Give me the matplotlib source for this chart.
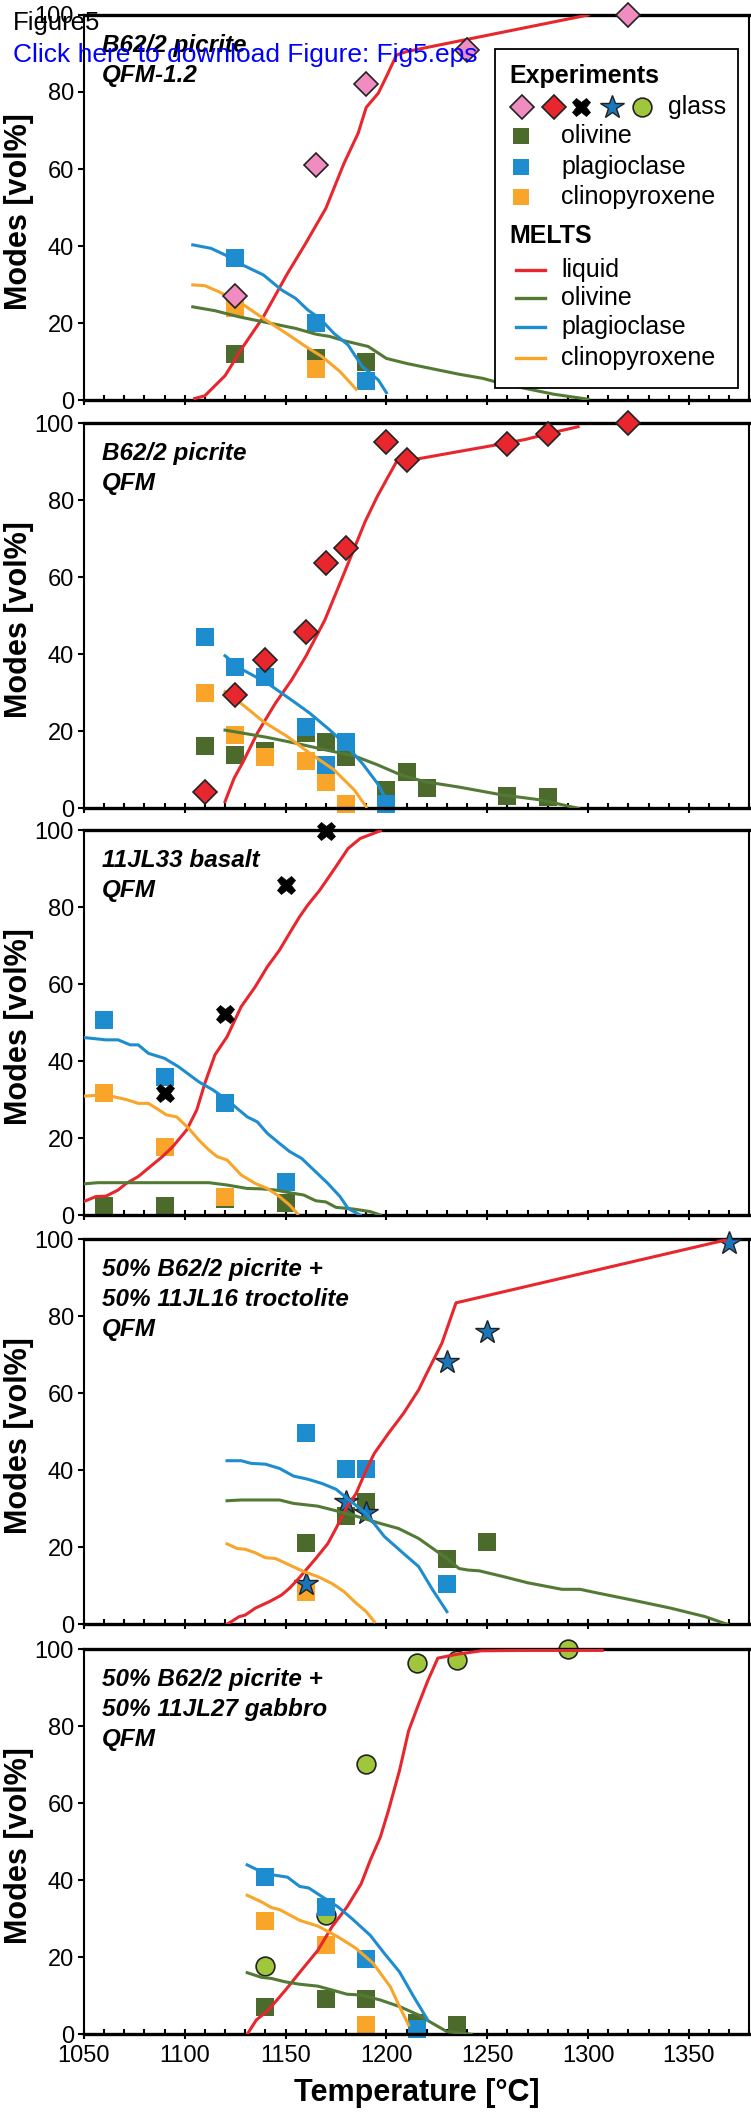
import matplotlib.pyplot as plt
from matplotlib.patches import Rectangle
from matplotlib.ticker import MultipleLocator

plt.rcParams['font.family'] = ['Liberation Sans', 'DejaVu Sans']

# ---- experiments (T in degC, modes in vol%) ----
p1_glass_T = [1125, 1165, 1190, 1240, 1320]
p1_glass = [27, 61, 82, 91, 100]
p1_ol_T = [1125, 1165, 1190]
p1_ol = [12, 11, 10]
p1_pl_T = [1125, 1165, 1190]
p1_pl = [37, 20, 5]
p1_cpx_T = [1125, 1165]
p1_cpx = [24, 8]

p2_glass_T = [1110, 1125, 1140, 1160, 1170, 1180, 1200, 1210, 1260, 1280, 1320]
p2_glass = [4.3, 29.4, 38.5, 45.7, 63.8, 67.5, 95, 90.5, 94.5, 97.2, 100]
p2_ol_T = [1110, 1125, 1140, 1160, 1170, 1180, 1200, 1210, 1220, 1260, 1280]
p2_ol = [16.3, 13.9, 14.8, 19.5, 17.3, 13.4, 4.8, 9.3, 5.2, 3.2, 2.9]
p2_pl_T = [1110, 1125, 1140, 1160, 1170, 1180, 1200]
p2_pl = [44.6, 36.8, 34.2, 21.2, 11.3, 17.3, 1]
p2_cpx_T = [1110, 1125, 1140, 1160, 1170, 1180]
p2_cpx = [29.9, 19, 13.4, 12.4, 6.7, 1]

p3_glass_T = [1090, 1120, 1150, 1170]
p3_glass = [31.8, 52.2, 85.7, 99.8]
p3_ol_T = [1060, 1090, 1120, 1150]
p3_ol = [2.3, 2.3, 4.2, 3.0]
p3_pl_T = [1060, 1090, 1120, 1150]
p3_pl = [50.6, 35.9, 29, 8.7]
p3_cpx_T = [1060, 1090, 1120]
p3_cpx = [31.8, 17.7, 4.8]

p4_glass_T = [1160, 1180, 1190, 1230, 1250, 1370]
p4_glass = [10.6, 31.9, 28.8, 68.2, 76, 99.1]
p4_ol_T = [1160, 1180, 1190, 1230, 1250]
p4_ol = [21, 28.1, 31.9, 17, 21.5]
p4_pl_T = [1160, 1180, 1190, 1230]
p4_pl = [49.6, 40.3, 40.3, 10.6]
p4_cpx_T = [1160]
p4_cpx = [8.3]

p5_glass_T = [1140, 1170, 1190, 1215, 1235, 1290]
p5_glass = [17.8, 30.9, 70.2, 96.5, 97.2, 100]
p5_ol_T = [1140, 1170, 1190, 1215, 1235]
p5_ol = [7.2, 9.1, 9.1, 2.8, 2.4]
p5_pl_T = [1140, 1170, 1190, 1215]
p5_pl = [40.8, 33, 19.5, 1.3]
p5_cpx_T = [1140, 1170, 1190]
p5_cpx = [29.4, 23.1, 2.4]

# ---- MELTS curves ----
p1_liq_T = [1105, 1110, 1120, 1129, 1139, 1151, 1160, 1170, 1179, 1186, 1190, 1196, 1200, 1205, 1210, 1300]
p1_liq = [0.4, 1.1, 6.3, 13.9, 21.6, 32.9, 40.7, 49.8, 61.5, 69.3, 76, 79.7, 84, 89.6, 90.5, 100]
p1_olm_T = [1104, 1115, 1127, 1139, 1155, 1165, 1172, 1179, 1191, 1200, 1210, 1222, 1236, 1248, 1257, 1269, 1283, 1300]
p1_olm = [24.2, 23.2, 21.6, 20.3, 18.6, 17.1, 16.5, 15.4, 13.9, 10.8, 9.5, 8.2, 6.7, 5.6, 4.3, 3.0, 1.5, 0.2]
p1_plm_T = [1104, 1113, 1120, 1127, 1139, 1148, 1155, 1161, 1167, 1174, 1181, 1188, 1196, 1200]
p1_plm = [40.3, 39.4, 37.7, 35.5, 32.5, 28.6, 26.4, 23.4, 21.2, 17.3, 14.3, 8.7, 5.2, 1.9]
p1_cpxm_T = [1104, 1110, 1117, 1127, 1139, 1151, 1160, 1168, 1177, 1185]
p1_cpxm = [29.9, 29.7, 28.1, 25.5, 21.2, 17.1, 13.9, 11.3, 7.4, 2.8]

p2_liq_T = [1120, 1124.5, 1129, 1136, 1145, 1153, 1160, 1169.5, 1179, 1189.5, 1195.5, 1200, 1205, 1214, 1231, 1245, 1259, 1269, 1281, 1295]
p2_liq = [1.7, 7.8, 12.1, 19.5, 27.3, 33.3, 39.4, 48.9, 61, 74.5, 81, 85.3, 90, 90.6, 92.2, 93.5, 94.8, 95.8, 97.4, 99.1]
p2_olm_T = [1120, 1129, 1141, 1155, 1169.5, 1184, 1195.5, 1207, 1219, 1236, 1257, 1276, 1295]
p2_olm = [20.3, 19.5, 18.4, 16.9, 15.2, 13.6, 11.3, 8.7, 6.9, 5.5, 3.5, 2.2, 0]
p2_plm_T = [1120, 1129, 1141, 1153, 1162, 1172, 1179, 1188, 1195.5, 1200]
p2_plm = [39.6, 35.9, 32.5, 28.1, 24.7, 20.3, 16.9, 11.7, 6.5, 2.2]
p2_cpxm_T = [1120, 1129, 1139, 1151, 1162, 1174, 1184, 1190]
p2_cpxm = [30.3, 26.8, 22.5, 18.6, 14.3, 10, 4.8, 0.4]

p3_liq_T = [1050, 1056, 1061, 1067, 1071, 1077, 1083, 1089, 1094, 1101, 1106, 1110, 1115, 1121, 1128, 1135, 1141, 1147, 1152, 1157, 1161, 1167, 1175, 1181, 1187, 1197]
p3_liq = [3.5, 4.8, 4.9, 6.5, 8.2, 10, 12.6, 15.2, 17.7, 22.1, 27.3, 34.2, 41.6, 46.3, 54.1, 59.3, 64.5, 68.8, 73.2, 77.5, 80.5, 84.4, 90.5, 95.2, 97.8, 99.8]
p3_olm_T = [1050, 1057, 1069, 1081, 1093, 1112, 1121, 1131, 1138, 1145, 1152, 1159, 1165, 1170, 1175, 1183, 1192, 1197]
p3_olm = [8.1, 8.4, 8.4, 8.4, 8.4, 8.4, 7.8, 6.9, 6.8, 6.5, 5.8, 5.2, 3.7, 3.4, 2.0, 1.6, 0.9, 0]
p3_plm_T = [1050, 1061, 1067, 1073, 1077, 1082, 1090, 1097, 1107, 1114, 1121, 1131, 1136, 1141, 1147, 1152, 1158, 1164, 1171, 1177, 1181, 1187]
p3_plm = [46.1, 45.5, 45.5, 44.2, 44.2, 42, 40.7, 38.5, 34.6, 32.5, 29.9, 25.5, 24.2, 21.2, 18.6, 16.5, 14.7, 11.7, 8.2, 4.8, 1.7, 0]
p3_cpxm_T = [1050, 1060, 1065, 1071, 1077, 1082, 1086, 1091, 1096, 1102, 1107, 1112, 1116, 1121, 1128, 1135, 1141, 1147, 1152, 1156]
p3_cpxm = [30.9, 31.2, 30.7, 30, 29, 29, 27.7, 26, 25.5, 22.5, 19.5, 16.9, 15.2, 14.3, 10.4, 8.2, 6.9, 4.8, 2.6, 0.3]

p4_liq_T = [1121, 1127, 1130, 1135, 1142, 1148, 1152, 1156.5, 1165, 1171, 1175, 1180, 1185, 1190, 1194, 1201, 1208.5, 1216, 1220, 1227.5, 1234.5, 1368]
p4_liq = [0, 2, 2.4, 4.2, 5.9, 7.6, 9.4, 11.9, 17.1, 21, 24.9, 30.1, 34, 40.1, 44.4, 49.6, 54.8, 60.9, 65.2, 73, 83.5, 99.8]
p4_olm_T = [1121, 1128, 1147, 1154, 1166, 1175, 1185, 1197, 1206, 1216, 1223, 1230, 1236, 1240.5, 1246, 1258, 1270, 1287, 1296, 1305, 1322, 1341, 1358, 1369]
p4_olm = [32.1, 32.3, 32.3, 31.4, 30.7, 29.5, 28.1, 26.2, 24.9, 22.3, 19.7, 17.1, 14.5, 14.1, 13.9, 12.4, 10.8, 9.1, 9.1, 8.1, 6.3, 4.2, 2, 0]
p4_plm_T = [1121, 1128, 1133, 1140, 1147, 1154, 1161, 1168, 1175, 1182.5, 1190, 1199, 1208.5, 1216, 1223, 1230]
p4_plm = [42.5, 42.5, 41.8, 41.6, 40.5, 38.5, 37.7, 36.6, 35.1, 31.9, 28.8, 22.8, 18.4, 15, 8.9, 3.3]
p4_cpxm_T = [1121, 1126, 1130, 1135, 1140, 1145, 1152, 1159, 1166, 1173, 1179, 1185, 1190, 1194]
p4_cpxm = [20.9, 19.7, 19.5, 18.6, 17.3, 17.1, 15.4, 13.7, 12.4, 10.6, 8.5, 5.5, 3.3, 0.7]

p5_liq_T = [1131, 1135.5, 1141.5, 1150, 1158, 1166, 1173, 1180.5, 1187.5, 1192, 1197, 1201, 1206.5, 1211, 1216, 1220.5, 1225.5, 1235, 1247, 1270, 1307]
p5_liq = [0, 3.7, 6.3, 11.5, 16.7, 21.8, 27.9, 33.1, 39.1, 45.2, 51.2, 58.1, 68.5, 78.8, 85.8, 91.8, 97.7, 98.7, 99.6, 99.7, 99.7]
p5_olm_T = [1131, 1138, 1143, 1150, 1157, 1166, 1173, 1180.5, 1187.5, 1197, 1206.5, 1216, 1223, 1230, 1242]
p5_olm = [16, 14.8, 14.5, 13.6, 13, 12.5, 11.5, 10.4, 10.2, 8.9, 7.2, 5, 2.8, 0.7, 0]
p5_plm_T = [1131, 1140, 1151, 1157, 1161.5, 1168.5, 1176, 1183, 1192, 1199, 1206.5, 1213.5, 1220.5]
p5_plm = [44, 41.7, 40.8, 38.4, 38, 35.6, 33.1, 30, 25.7, 21, 16.2, 9.8, 3.7]
p5_cpxm_T = [1131, 1138, 1143, 1147, 1157, 1166, 1176, 1185, 1193.5, 1202, 1206.5, 1211]
p5_cpxm = [36.1, 34.4, 32.9, 32.4, 29.6, 28.1, 25.3, 22.3, 18.4, 12.3, 7.2, 2.4]

titles = [
    ['B62/2 picrite', 'QFM-1.2'],
    ['B62/2 picrite', 'QFM'],
    ['11JL33 basalt', 'QFM'],
    ['50% B62/2 picrite +', '50% 11JL16 troctolite', 'QFM'],
    ['50% B62/2 picrite +', '50% 11JL27 gabbro', 'QFM'],
]

RED = '#e8262d'
OL_SQ = '#4b6a2c'
OL_LN = '#537a35'
PL = '#1e8dd0'
CPX = '#f8a52a'
glass_styles = [
    dict(marker='D', ms=12.5, mfc='#f08cc0', mec='#222222', mew=1.2),
    dict(marker='D', ms=12.5, mfc=RED, mec='#222222', mew=1.2),
    dict(marker='X', ms=13, mfc='black', mec='black', mew=0.5),
    dict(marker='*', ms=17.5, mfc='#1a76bc', mec='#222222', mew=1.0),
    dict(marker='o', ms=13.5, mfc='#a0c73c', mec='#222222', mew=1.2),
]
glass_z = [5, 5, 5, 3, 1.5]

panels = [
    (p1_glass_T, p1_glass, p1_ol_T, p1_ol, p1_pl_T, p1_pl, p1_cpx_T, p1_cpx,
     p1_liq_T, p1_liq, p1_olm_T, p1_olm, p1_plm_T, p1_plm, p1_cpxm_T, p1_cpxm),
    (p2_glass_T, p2_glass, p2_ol_T, p2_ol, p2_pl_T, p2_pl, p2_cpx_T, p2_cpx,
     p2_liq_T, p2_liq, p2_olm_T, p2_olm, p2_plm_T, p2_plm, p2_cpxm_T, p2_cpxm),
    (p3_glass_T, p3_glass, p3_ol_T, p3_ol, p3_pl_T, p3_pl, p3_cpx_T, p3_cpx,
     p3_liq_T, p3_liq, p3_olm_T, p3_olm, p3_plm_T, p3_plm, p3_cpxm_T, p3_cpxm),
    (p4_glass_T, p4_glass, p4_ol_T, p4_ol, p4_pl_T, p4_pl, p4_cpx_T, p4_cpx,
     p4_liq_T, p4_liq, p4_olm_T, p4_olm, p4_plm_T, p4_plm, p4_cpxm_T, p4_cpxm),
    (p5_glass_T, p5_glass, p5_ol_T, p5_ol, p5_pl_T, p5_pl, p5_cpx_T, p5_cpx,
     p5_liq_T, p5_liq, p5_olm_T, p5_olm, p5_plm_T, p5_plm, p5_cpxm_T, p5_cpxm),
]

fig = plt.figure(figsize=(7.51, 21.12), dpi=100)
bottoms = [0.8106, 0.6173, 0.4247, 0.2309, 0.0368]
SQ = dict(marker='s', ms=12.5, ls='none', mew=0, clip_on=False, zorder=2)

axes = []
for i, d in enumerate(panels):
    (gT, g, oT, o, pT, p, cT, c, lqT, lq, omT, om, pmT, pm, cmT, cm) = d
    ax = fig.add_axes([0.1116, bottoms[i], 0.8864, 0.1823])
    axes.append(ax)

    ax.plot(oT, o, color=OL_SQ, **SQ)
    ax.plot(cT, c, color=CPX, **SQ)
    ax.plot(pT, p, color=PL, **SQ)

    ax.plot(lqT, lq, color=RED, lw=2.2, zorder=4)
    ax.plot(omT, om, color=OL_LN, lw=2.2, zorder=4)
    ax.plot(pmT, pm, color=PL, lw=2.2, zorder=4)
    ax.plot(cmT, cm, color=CPX, lw=2.2, zorder=4)

    ax.plot(gT, g, ls='none', clip_on=False, zorder=glass_z[i], **glass_styles[i])

    for k, line in enumerate(titles[i]):
        ax.text(0.027, 0.922 - 0.078 * k, line, transform=ax.transAxes,
                fontsize=17.5, fontweight='bold', fontstyle='italic', va='center', ha='left')

    ax.set_xlim(1050, 1380)
    ax.set_ylim(0, 100)
    ax.set_xticks(range(1050, 1400, 50))
    ax.xaxis.set_minor_locator(MultipleLocator(10))
    ax.set_yticks(range(0, 101, 20))
    ax.tick_params(axis='x', which='major', direction='inout', length=7, width=1.5,
                   labelsize=17, pad=4, labelbottom=(i == 4))
    ax.tick_params(axis='x', which='minor', direction='in', length=3.5, width=1.5)
    ax.tick_params(axis='y', direction='out', length=4, width=1.5, labelsize=17, pad=3)
    for s in ['top', 'bottom']:
        ax.spines[s].set_linewidth(2.4)
    for s in ['left', 'right']:
        ax.spines[s].set_linewidth(1.5)

    ax.set_ylabel('Modes [vol%]', fontsize=22, fontweight='bold')
    ax.yaxis.set_label_coords(-0.097, 0.49)
    ax.yaxis.label.set_verticalalignment('center')

axes[-1].set_xlabel('Temperature [°C]', fontsize=22, fontweight='bold')
axes[-1].xaxis.set_label_coords(0.5, -0.152)
axes[-1].xaxis.label.set_verticalalignment('center')

# legend drawn by hand in the first panel
ax = axes[0]
tr = ax.transAxes
ax.add_patch(Rectangle((0.617, 0.032), 0.366, 0.879, transform=tr, facecolor='white',
                       edgecolor='black', lw=1.3, zorder=6))
ax.text(0.640, 0.842, 'Experiments', transform=tr, fontsize=18, fontweight='bold',
        va='center', zorder=7)
for x, st in zip([0.658, 0.706, 0.747, 0.793, 0.839], glass_styles):
    ax.plot([x], [0.761], transform=tr, ls='none', clip_on=False, zorder=7, **st)
ax.text(0.878, 0.761, 'glass', transform=tr, fontsize=18, va='center', zorder=7)
for y, col, name in [(0.686, OL_SQ, 'olivine'), (0.606, PL, 'plagioclase'), (0.528, CPX, 'clinopyroxene')]:
    ax.plot([0.656], [y], transform=tr, marker='s', ms=11.5, mew=0, color=col, ls='none', zorder=7)
    ax.text(0.717, y, name, transform=tr, fontsize=18, va='center', zorder=7)
ax.text(0.640, 0.427, 'MELTS', transform=tr, fontsize=18, fontweight='bold', va='center', zorder=7)
for y, col, name in [(0.338, RED, 'liquid'), (0.266, OL_LN, 'olivine'),
                     (0.190, PL, 'plagioclase'), (0.108, CPX, 'clinopyroxene')]:
    ax.plot([0.649, 0.693], [y, y], transform=tr, color=col, lw=2.4, zorder=7)
    ax.text(0.717, y, name, transform=tr, fontsize=18, va='center', zorder=7)

fig.text(0.0173, 0.9891, 'Figure5', fontsize=18.5, va='center', ha='left')
fig.text(0.0173, 0.974, 'Click here to download Figure: Fig5.eps', fontsize=19,
         color='#0000ff', va='center', ha='left')

fig.savefig('out.png', dpi=100)
